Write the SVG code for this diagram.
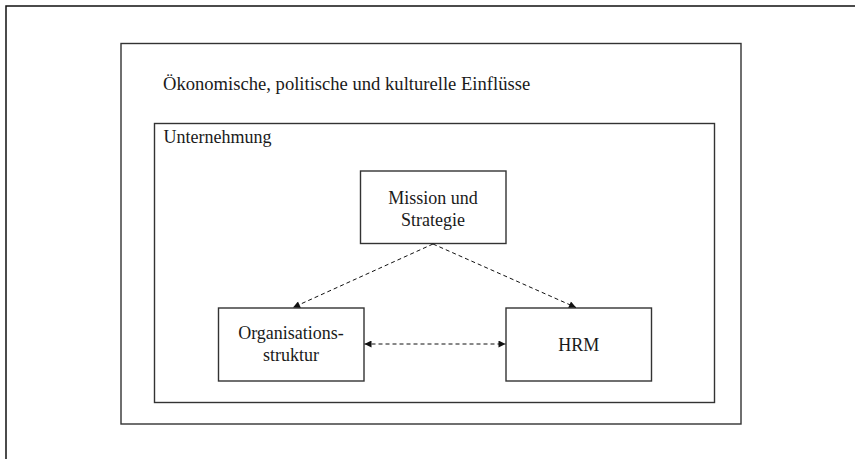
<svg xmlns="http://www.w3.org/2000/svg" width="855" height="459" viewBox="0 0 855 459">
<style>
  .t { font-family: 'Liberation Serif', 'Times New Roman', Times, serif; fill: #1a1a1a; font-size: 18px; }
  .big { font-size: 18.6px; }
  .mid { text-anchor: middle; }
  .box { fill: #fff; stroke: #333; stroke-width: 1.4; }
  .frame { fill: none; stroke: #111; stroke-width: 1.5; }
  .conn { fill: none; stroke: #111; stroke-width: 1; stroke-dasharray: 4 3; }
</style>
<defs>
  <marker id="arr" viewBox="0 0 10 10" refX="10" refY="5" markerWidth="9" markerHeight="7" markerUnits="userSpaceOnUse" orient="auto-start-reverse">
    <path d="M0,0 L10,5 L0,10 z" fill="#111"/>
  </marker>
</defs>
<rect width="855" height="459" fill="#fff"/>
<g id="page-frame">
  <path class="frame" d="M6,459 L6,6 L855,6"/>
</g>
<g id="umwelt">
  <rect class="box" x="121" y="43.5" width="620" height="380.5"/>
  <text class="t big" x="163" y="90">Ökonomische, politische und kulturelle Einflüsse</text>
</g>
<g id="unternehmung">
  <rect class="box" x="154.5" y="123.5" width="560" height="279"/>
  <text class="t" x="163.5" y="143">Unternehmung</text>
</g>
<g id="mission">
  <rect class="box" x="360.5" y="171" width="145.5" height="72.5"/>
  <text class="t mid" x="433" y="204">Mission und</text>
  <text class="t mid" x="433" y="226">Strategie</text>
</g>
<g id="organisation">
  <rect class="box" x="218.5" y="308" width="145.5" height="73"/>
  <text class="t mid" x="291" y="339">Organisations-</text>
  <text class="t mid" x="291" y="361">struktur</text>
</g>
<g id="hrm">
  <rect class="box" x="506" y="308" width="145.5" height="73"/>
  <text class="t mid" x="578.7" y="351">HRM</text>
</g>
<g id="connectors">
  <line class="conn" x1="433" y1="244" x2="293" y2="307.5" marker-end="url(#arr)"/>
  <line class="conn" x1="433" y1="244" x2="576" y2="307.5" marker-end="url(#arr)"/>
  <line class="conn" x1="364.5" y1="344" x2="505.5" y2="344" marker-start="url(#arr)" marker-end="url(#arr)"/>
</g>
</svg>
